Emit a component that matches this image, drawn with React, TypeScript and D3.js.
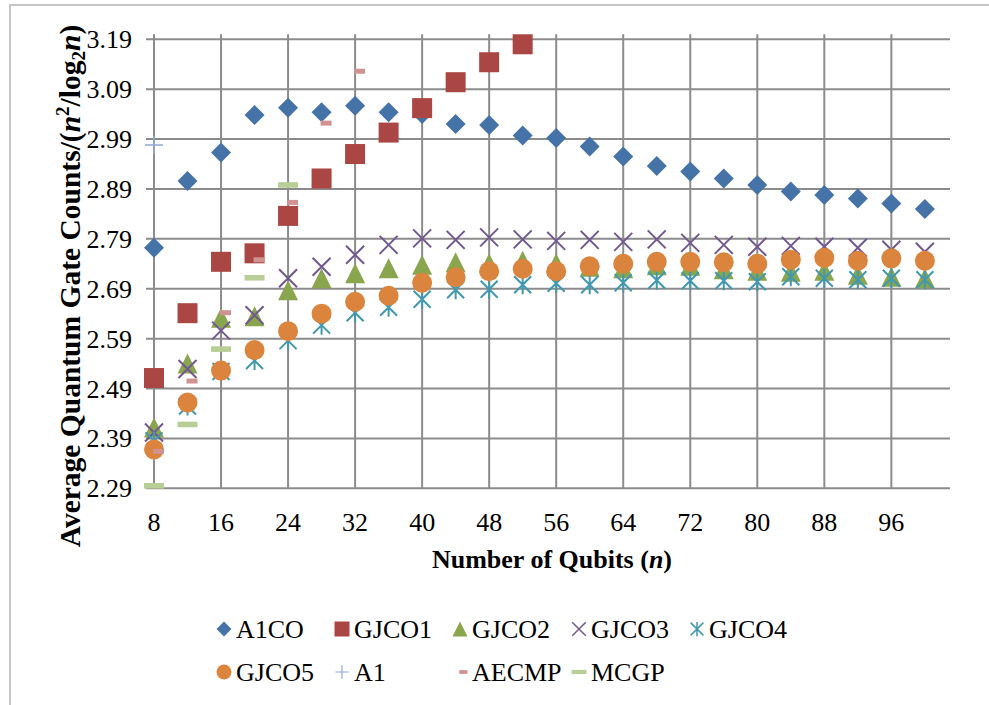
import React from "react";
import * as d3 from "d3";

// ---- data ----
const qubits = [8, 12, 16, 20, 24, 28, 32, 36, 40, 44, 48, 52, 56, 60, 64, 68, 72, 76, 80, 84, 88, 92, 96, 100];
const a1co = [2.772, 2.906, 2.963, 3.038, 3.053, 3.044, 3.057, 3.044, 3.040, 3.020, 3.018, 2.997, 2.992, 2.975, 2.955, 2.936, 2.925, 2.911, 2.898, 2.885, 2.878, 2.871, 2.861, 2.850];
const gjco1 = [2.511, 2.641, 2.744, 2.761, 2.836, 2.911, 2.960, 3.003, 3.052, 3.104, 3.144, 3.180];
const gjco2 = [2.412, 2.540, 2.632, 2.635, 2.687, 2.711, 2.721, 2.731, 2.738, 2.743, 2.741, 2.746, 2.741, 2.734, 2.731, 2.737, 2.736, 2.729, 2.726, 2.724, 2.726, 2.718, 2.714, 2.711];
const gjco3 = [2.402, 2.529, 2.606, 2.637, 2.711, 2.734, 2.758, 2.778, 2.791, 2.788, 2.793, 2.789, 2.786, 2.788, 2.784, 2.789, 2.782, 2.778, 2.774, 2.776, 2.774, 2.772, 2.768, 2.764];
const gjco4 = [2.385, 2.455, 2.524, 2.546, 2.586, 2.617, 2.642, 2.653, 2.669, 2.688, 2.689, 2.698, 2.701, 2.698, 2.702, 2.707, 2.706, 2.706, 2.704, 2.714, 2.711, 2.708, 2.711, 2.708];
const gjco5 = [2.368, 2.462, 2.526, 2.567, 2.605, 2.640, 2.664, 2.676, 2.702, 2.713, 2.725, 2.730, 2.725, 2.735, 2.740, 2.744, 2.744, 2.743, 2.740, 2.748, 2.752, 2.746, 2.751, 2.746];
const a1 = [2.978];
const aecmp = [2.364, 2.505, 2.642, 2.748, 2.863, 3.022, 3.126];
const mcgp = [2.295, 2.418, 2.569, 2.712, 2.898];

const yTicks = [2.29, 2.39, 2.49, 2.59, 2.69, 2.79, 2.89, 2.99, 3.09, 3.19];
const xTicks = [8, 16, 24, 32, 40, 48, 56, 64, 72, 80, 88, 96];

type Shape = "diamond" | "square" | "triangle" | "x" | "asterisk" | "circle" | "plus" | "dashS" | "dashL";
const seriesList: { name: string; values: number[]; color: string; shape: Shape }[] = [
  { name: "A1CO", values: a1co, color: "#4572A7", shape: "diamond" },
  { name: "GJCO1", values: gjco1, color: "#AA4643", shape: "square" },
  { name: "GJCO2", values: gjco2, color: "#89A54E", shape: "triangle" },
  { name: "GJCO3", values: gjco3, color: "#71588F", shape: "x" },
  { name: "GJCO4", values: gjco4, color: "#4198AF", shape: "asterisk" },
  { name: "GJCO5", values: gjco5, color: "#DB843D", shape: "circle" },
  { name: "A1", values: a1, color: "#93A9CF", shape: "plus" },
  { name: "AECMP", values: aecmp, color: "#D19392", shape: "dashS" },
  { name: "MCGP", values: mcgp, color: "#B9CD96", shape: "dashL" },
];

const W = 989;
const H = 705;
const FONT = "'Liberation Serif', 'Times New Roman', serif";

function Marker({ shape, cx, cy, color }: { shape: Shape; cx: number; cy: number; color: string }) {
  const r = 10;
  switch (shape) {
    case "diamond":
      return <path d={`M${cx},${cy - r}L${cx + r},${cy}L${cx},${cy + r}L${cx - r},${cy}Z`} fill={color} />;
    case "square":
      return <rect x={cx - r} y={cy - r} width={2 * r} height={2 * r} fill={color} />;
    case "triangle":
      return <path d={`M${cx},${cy - r}L${cx + r},${cy + r}L${cx - r},${cy + r}Z`} fill={color} />;
    case "circle":
      return <circle cx={cx} cy={cy} r={r} fill={color} />;
    case "x": {
      const s = 9;
      return (
        <path d={`M${cx - s},${cy - s}L${cx + s},${cy + s}M${cx - s},${cy + s}L${cx + s},${cy - s}`} stroke={color} strokeWidth={2} fill="none" />
      );
    }
    case "asterisk": {
      const s = 8.5;
      return (
        <path
          d={`M${cx - s},${cy - s}L${cx + s},${cy + s}M${cx - s},${cy + s}L${cx + s},${cy - s}M${cx},${cy - s - 1}L${cx},${cy + s + 1}`}
          stroke={color}
          strokeWidth={2}
          fill="none"
        />
      );
    }
    case "plus": {
      const s = 9;
      return <path d={`M${cx - s},${cy}L${cx + s},${cy}M${cx},${cy - s}L${cx},${cy + s}`} stroke={color} strokeWidth={1.6} fill="none" />;
    }
    case "dashS":
      return <rect x={cx - 1} y={cy - 2.5} width={11} height={5} fill={color} />;
    case "dashL":
      return <rect x={cx - 10} y={cy - 2.8} width={20} height={5.6} fill={color} />;
  }
  return null;
}

export default function App() {
  const x = d3.scaleLinear().domain([8, 103]).range([154, 950]);
  const y = d3.scaleLinear().domain([2.29, 3.2]).range([488.3, 34.3]);
  const [x0, x1] = x.range();
  const [yb, yt] = y.range();
  const grid = "#8C8C8C";

  const legendCols = [224, 342, 460, 579, 697];
  const legendRows = [629, 672];

  return (
    <svg width={W} height={H} style={{ position: "absolute", left: 0, top: 0, background: "#fff" }} fontFamily={FONT}>
      <rect x={0} y={0} width={W} height={H} fill="#fff" />
      {/* chart border (partly out of view) */}
      <path d={`M10,${H}L10,5L${W},5`} fill="none" stroke="#C6C6C6" strokeWidth={2} />

      {/* horizontal gridlines */}
      {yTicks.map((t) => (
        <line key={"h" + t} x1={x0 - 8} x2={x1} y1={y(t)} y2={y(t)} stroke={grid} strokeWidth={2} />
      ))}
      {/* vertical gridlines */}
      {xTicks.map((t) => (
        <line key={"v" + t} x1={x(t)} x2={x(t)} y1={yt} y2={yb} stroke={grid} strokeWidth={2} />
      ))}

      {/* y tick labels */}
      {yTicks.map((t) => (
        <text key={"yl" + t} x={132} y={y(t) + 9} textAnchor="end" fontSize={26} fill="#000">
          {d3.format(".2f")(t)}
        </text>
      ))}
      {/* x tick labels */}
      {xTicks.map((t) => (
        <text key={"xl" + t} x={x(t)} y={531} textAnchor="middle" fontSize={26} fill="#000">
          {t}
        </text>
      ))}

      {/* axis titles */}
      <text x={(x0 + x1) / 2} y={568} textAnchor="middle" fontSize={26} fontWeight="bold" fill="#000">
        Number of Qubits (<tspan fontStyle="italic">n</tspan>)
      </text>
      <text transform="translate(80,286) rotate(-90)" textAnchor="middle" fontSize={29.5} fontWeight="bold" fill="#000">
        Average Quantum Gate Counts/(<tspan fontStyle="italic">n</tspan>
        <tspan fontSize={19} dy={-11}>2</tspan>
        <tspan dy={11}>/log</tspan>
        <tspan fontSize={19} dy={5}>2</tspan>
        <tspan dy={-5} fontStyle="italic">n</tspan>)
      </text>

      {/* series */}
      {seriesList.map((s) => (
        <g key={s.name}>
          {s.values.map((v, i) => (
            <Marker key={i} shape={s.shape} cx={x(qubits[i])} cy={y(v)} color={s.color} />
          ))}
        </g>
      ))}

      {/* legend */}
      {seriesList.map((s, i) => {
        const cx = legendCols[i % 5];
        const cy = legendRows[Math.floor(i / 5)];
        return (
          <g key={"lg" + s.name}>
            <g transform={`translate(${cx},${cy}) scale(0.75) translate(${-cx},${-cy})`}>
              <Marker shape={s.shape} cx={cx} cy={cy} color={s.color} />
            </g>
            <text x={cx + 12} y={cy + 9} fontSize={26} fill="#000">
              {s.name}
            </text>
          </g>
        );
      })}
    </svg>
  );
}
